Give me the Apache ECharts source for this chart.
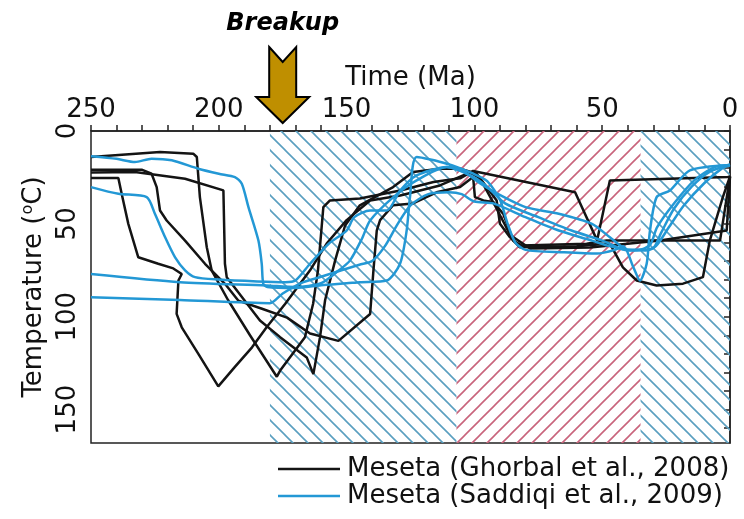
<!DOCTYPE html>
<html>
<head>
<meta charset="utf-8">
<script src="https://cdn.jsdelivr.net/npm/echarts@6/dist/echarts.min.js"></script>
<style>
  html, body { margin: 0; padding: 0; background: #fff; }
  #chart { width: 744px; height: 519px; }
</style>
</head>
<body>
<div id="chart"></div>
<script>
// Thermal histories (time in Ma, temperature in °C), Meseta samples
const ghorbalPath1 = [[250,25.3],[239.3,25.3],[238,33.8],[235.4,50],[231.5,68],[223.7,71.5],[217.8,74],[214.5,77],[215.8,80.5],[216.5,98.5],[214.5,105.7],[208,120],[200.2,137.5],[193.7,127],[187,116.5],[181.3,105.7],[174,93],[164.3,75],[157.8,60.6],[150,48],[140.8,37.4],[129,34.7],[113.5,29.3],[101.7,22.3],[97.8,25.5],[92,40],[86,56],[78.2,63.3],[54.8,62.7],[27.4,59],[1.3,53.6],[0,24.5]];
const ghorbalPath2 = [[250,14],[223,11.3],[210,12.2],[208.6,14],[207.4,35.6],[204.7,62.6],[202.8,75],[196.4,91],[187.8,110],[177.3,132.3],[176,129],[166.3,111],[163.1,93],[161.2,75],[159.1,41],[156.5,37.4],[144.8,36.3],[129,32],[116,27.5],[105.6,25.5],[100.5,21.5],[60.6,33],[52,58.9],[47,26.6],[0.8,24.8],[0,24.5]];
const ghorbalPath3 = [[250,20.8],[230.2,20.8],[226.3,23],[224.3,30.2],[223,42.8],[220.4,48.2],[213.2,59],[205.4,71.5],[197.6,82.3],[192.4,91.3],[183.1,95.7],[173.3,100.5],[164.3,109],[153.2,113],[140.8,98.5],[139.5,75],[138.2,53.6],[136.9,48],[131.8,40],[124,39],[114.8,33],[105.6,30.2],[100.5,24.8],[99.8,35.6],[96.5,37.4],[92.6,38.3],[88.7,44.6],[84.8,59],[81.5,61.7],[56.1,60.7],[48.3,59],[3.9,59],[0,24.5]];
const ghorbalPath4 = [[250,22.4],[232.8,22.1],[213.2,25.7],[198.2,32],[197.6,71.5],[196.9,78.7],[183.9,102],[176,111],[165.6,121.9],[163,130.9],[160.4,111],[158.4,91],[154.5,69.8],[150.6,50.9],[144.8,40],[131.8,30.2],[124,22.1],[113.5,20.3],[105.6,20.3],[99.1,23],[91.3,37.4],[90,50],[86.1,57.2],[82.2,62.6],[60,62],[47,60.6],[41.9,73.4],[36.5,80.5],[28.7,83.2],[18.4,82.2],[10.6,78.7],[7.9,59],[2.8,35.6],[0,24.5]];

const saddiqiPathA = [[250,13.6],[240,15],[232.8,16.7],[226.3,14.9],[218.4,15.8],[208,20.3],[200,23],[193.7,24.8],[191,28.4],[188.4,41],[184.5,59],[183.2,71.5],[182.6,82.3],[181,84],[170,84.5],[160,83],[150,82],[144.8,81.4],[134.3,80.5],[129.1,71.5],[126.5,53.6],[125.2,35.6],[122.6,14],[110.8,17.6],[100.4,23],[95,27],[90,37],[87,50],[84,60],[80,64],[65,65.3],[52,66],[45,64],[41.7,62],[37.8,73.4],[35.2,80.5],[32.6,71.5],[31.3,53.6],[28.7,35.6],[23.5,32],[15.7,21.2],[0,18.3]];
const saddiqiPathB = [[250,30.2],[239.3,33.8],[228.2,35.6],[225,44.6],[221,57.2],[217.1,68],[213.2,75],[209.3,78.7],[200,80],[185,81],[174,81.4],[170,80.5],[164.3,71.5],[157,60.7],[150,53.6],[147,46.4],[140.8,42.8],[134.3,42.8],[129,32],[122.6,23.9],[110.8,19.4],[100.4,24.8],[95,30],[88,39],[75,46.4],[62,53.6],[50,59],[40,64.3],[34,63.5],[31,60.7],[28.5,51.8],[22,39.2],[14,26.6],[6,19.4],[0,18.5]];
const saddiqiPathC = [[250,77],[215.2,81.4],[181.3,83.2],[170,84],[160,82],[153,75],[148.7,69.8],[144,58],[140.8,48.2],[131.7,35.6],[122.6,26.6],[110.8,19.4],[104,22],[98,28],[92,33],[80,41],[67,44.6],[54,50],[47,57.2],[40,64],[33,64.3],[29,62],[24,52],[18,40],[10,28],[3,20],[0,18.5]];
const saddiqiPathD = [[250,89.5],[215.2,91],[180,92.7],[175,87.5],[168,82],[160,78.5],[152,75],[145,72],[140,70],[135,62],[130,50],[125,40],[118,34],[110,33],[105,34],[100,38],[92.6,39],[80,46.4],[67,53.6],[54,59],[48,61.7],[44,63],[40,64],[35,64],[30,63],[27,55],[22,42],[15,30],[8,22],[0,18]];

// Tectonic periods shaded behind the paths (Ma)
const periodBounds = [[180, 107], [107, 35], [35, 0]];
const periodKinds = ['cool', 'warm', 'cool'];
const breakupAge = 175;

// Axis ticks and labels
const timeLabels = [250, 200, 150, 100, 50, 0];
const tempLabels = [0, 50, 100, 150];
const timeTicks = Array.from({length: 26}, (_, i) => i * 10);
const tempTicks = Array.from({length: 17}, (_, i) => i * 10);

const ghorbalName = 'Meseta (Ghorbal et al., 2008)';
const saddiqiName = 'Meseta (Saddiqi et al., 2009)';
const FONT = 'DejaVu Sans';

function hatch(color, backslash) {
  const s = 15;
  const c = document.createElement('canvas');
  c.width = s; c.height = s;
  const g = c.getContext('2d');
  g.strokeStyle = color;
  g.lineWidth = 1.6;
  g.beginPath();
  if (backslash) {
    g.moveTo(-2, -2); g.lineTo(s + 2, s + 2);
    g.moveTo(-2, s - 2); g.lineTo(2, s + 2);
    g.moveTo(s - 2, -2); g.lineTo(s + 2, 2);
  } else {
    g.moveTo(-2, s + 2); g.lineTo(s + 2, -2);
    g.moveTo(-2, 2); g.lineTo(2, -2);
    g.moveTo(s - 2, s + 2); g.lineTo(s + 2, s - 2);
  }
  g.stroke();
  return c;
}
const coolFill = { image: hatch('#5a9fc0', true), repeat: 'repeat' };
const warmFill = { image: hatch('#c9647c', false), repeat: 'repeat' };

const chart = echarts.init(document.getElementById('chart'), null, { renderer: 'canvas' });

function pathSeries(name, data, color, smooth) {
  return {
    type: 'line', name, data, z: 3,
    showSymbol: false, symbol: 'none', smooth,
    lineStyle: { color, width: 2.5 },
    itemStyle: { color },
    emphasis: { disabled: true }
  };
}

const series = [
  {
    type: 'line', name: 'periods', data: [], z: 1, silent: true,
    markArea: {
      silent: true,
      data: periodBounds.map((b, i) => [
        { xAxis: b[0], itemStyle: { color: periodKinds[i] === 'cool' ? coolFill : warmFill } },
        { xAxis: b[1] }
      ])
    }
  },
  ...[ghorbalPath1, ghorbalPath2, ghorbalPath3, ghorbalPath4].map(p => pathSeries(ghorbalName, p, '#141414', false)),
  ...[saddiqiPathA, saddiqiPathB, saddiqiPathC, saddiqiPathD].map(p => pathSeries(saddiqiName, p, '#2398d5', 0.25))
];

chart.setOption({
  animation: false,
  grid: { left: 91, right: 14, top: 131, bottom: 76, show: true, borderColor: '#222', borderWidth: 1.5, backgroundColor: 'transparent' },
  legend: {
    data: [ghorbalName, saddiqiName],
    orient: 'vertical', left: 273, top: 451,
    icon: 'rect', itemWidth: 62, itemHeight: 2.5, itemGap: 1,
    textStyle: { fontFamily: FONT, fontSize: 26, color: '#111', padding: [0, 0, 0, 2] }
  },
  xAxis: {
    type: 'value', position: 'top', inverse: true, min: 0, max: 250,
    name: 'Time (Ma)', nameLocation: 'middle', nameGap: 40,
    nameTextStyle: { fontFamily: FONT, fontSize: 26, color: '#111' },
    axisLine: { show: true, lineStyle: { color: '#222', width: 1.5 } },
    axisTick: { show: true, inside: false, length: 6, customValues: timeTicks, lineStyle: { color: '#222', width: 1.5 } },
    axisLabel: { customValues: timeLabels, fontFamily: FONT, fontSize: 26, color: '#111', margin: 8 },
    splitLine: { show: false }
  },
  yAxis: {
    type: 'value', inverse: true, min: 0, max: 168,
    name: 'Temperature ({sup|o}C)', nameLocation: 'middle', nameGap: 42,
    nameTextStyle: {
      fontFamily: FONT, fontSize: 26, color: '#111',
      rich: { sup: { fontFamily: FONT, fontSize: 16, color: '#111', verticalAlign: 'top', padding: [0, 0, 12, 0] } }
    },
    axisLine: { show: true, lineStyle: { color: '#222', width: 1.5 } },
    axisTick: { show: true, inside: false, length: 6, customValues: tempTicks, lineStyle: { color: '#222', width: 1.5 } },
    axisLabel: { customValues: tempLabels, rotate: 90, fontFamily: FONT, fontSize: 26, color: '#111', margin: 10 },
    splitLine: { show: false }
  },
  series
});

// Breakup marker above the time axis
const cx = chart.convertToPixel({ xAxisIndex: 0 }, breakupAge);
const tipY = 123;
chart.setOption({
  graphic: [
    {
      type: 'polygon', z: 10,
      shape: { points: [
        [cx - 13.5, tipY - 76], [cx, tipY - 61], [cx + 13.5, tipY - 76],
        [cx + 13.5, tipY - 26], [cx + 26.5, tipY - 26], [cx, tipY],
        [cx - 26.5, tipY - 26], [cx - 13.5, tipY - 26]
      ] },
      style: { fill: '#bf8f00', stroke: '#000', lineWidth: 2, lineJoin: 'miter' }
    },
    {
      type: 'text', z: 10, x: cx, y: 24,
      style: { text: 'Breakup', fontFamily: FONT, fontSize: 24, fontWeight: 'bold', fontStyle: 'italic', fill: '#000', align: 'center', verticalAlign: 'middle' }
    }
  ]
});
</script>
</body>
</html>
